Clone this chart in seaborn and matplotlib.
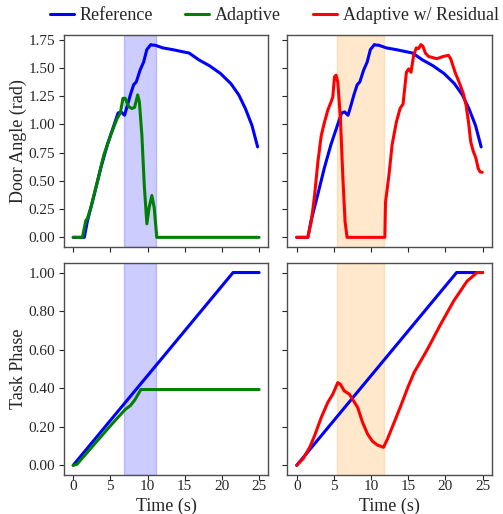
import numpy as np
import pandas as pd
import matplotlib
matplotlib.use("Agg")
import matplotlib.pyplot as plt
import seaborn as sns
from matplotlib.ticker import FormatStrFormatter

# reference door trajectory (same for both columns)
ref_t = [0, 1.5, 1.9, 2.8, 3.7, 4.6, 5.47, 6.04, 6.44, 6.9, 7.24, 7.69, 8.13, 8.49, 9.0, 9.47, 9.9,
         10.44, 10.7, 11.0, 12.04, 13.4, 15.6, 16.9, 18.27, 19.8, 21.2, 22.27, 23.15, 24.04, 24.8]
ref_angle = [0, 0, 0.14, 0.37, 0.61, 0.82, 0.99, 1.10, 1.11, 1.08, 1.155, 1.26, 1.35, 1.375, 1.48, 1.55, 1.66,
             1.705, 1.70, 1.70, 1.676, 1.66, 1.63, 1.57, 1.52, 1.45, 1.36, 1.26, 1.14, 0.99, 0.80]

# adaptive (green)
ada_t = [0, 1.24, 1.7, 1.9, 2.36, 3.24, 4.13, 5.02, 5.9, 6.34, 6.7, 7.0, 7.47, 7.9, 8.26, 8.67, 8.9,
         9.24, 9.56, 9.91, 10.2, 10.58, 10.9, 11.24, 25]
ada_angle = [0, 0, 0.15, 0.165, 0.26, 0.49, 0.73, 0.90, 1.05, 1.10, 1.23, 1.23, 1.155, 1.14, 1.15, 1.26, 1.2,
             0.90, 0.46, 0.12, 0.26, 0.37, 0.26, 0, 0]

# adaptive with residual (red)
res_t = [0, 1.5, 1.96, 2.4, 2.85, 3.3, 3.74, 4.18, 4.63, 4.85, 5.08, 5.3, 5.52, 5.88, 6.19, 6.5, 6.77,
         11.85, 11.94, 12.4, 12.83, 13.4, 13.9, 14.3, 14.75, 15.05, 15.37, 15.72, 16.08, 16.4, 16.7, 16.97,
         17.3, 17.73, 18.85, 19.7, 20.4, 20.7, 21.3, 21.97, 22.4, 22.77, 23.1, 23.4, 23.7, 24.1, 24.4, 24.64, 24.95]
res_angle = [0, 0, 0.14, 0.37, 0.67, 0.90, 1.02, 1.125, 1.2, 1.24, 1.42, 1.435, 1.375, 1.05, 0.55, 0.14, 0,
             0, 0.31, 0.55, 0.82, 1.02, 1.14, 1.18, 1.46, 1.49, 1.46, 1.61, 1.676, 1.67, 1.705, 1.69,
             1.63, 1.60, 1.58, 1.60, 1.61, 1.58, 1.46, 1.35, 1.27, 1.17, 1.02, 0.845, 0.77, 0.70, 0.61, 0.58, 0.575]

# task phase
ref_phase_t = [0, 21.5, 25]
ref_phase = [0, 1.0, 1.0]
ada_phase_t = [0, 0.5, 5, 7, 7.7, 8.3, 9.1, 25]
ada_phase = [0, 0.005, 0.205, 0.29, 0.31, 0.34, 0.393, 0.393]
res_phase_t = [0, 0.84, 1.74, 2.4, 3.3, 4.18, 4.85, 5.52, 5.87, 6.4, 7.08, 7.5, 8.2, 8.86, 9.53, 10.2,
               10.87, 11.67, 12.2, 13.1, 14.0, 14.9, 15.78, 17.55, 19.33, 21.1, 22.9, 24.24, 25]
res_phase = [0, 0.033, 0.093, 0.153, 0.248, 0.326, 0.369, 0.429, 0.42, 0.386, 0.369, 0.343, 0.30, 0.222,
             0.162, 0.124, 0.105, 0.093, 0.136, 0.222, 0.309, 0.40, 0.481, 0.60, 0.73, 0.852, 0.955, 1.0, 1.0]

# highlighted intervals
ada_span = (6.8, 11.15)
res_span = (5.4, 11.8)

sns.set_style("ticks")
plt.rcParams["font.family"] = ["Liberation Serif", "DejaVu Serif"]
plt.rcParams["axes.edgecolor"] = "0.3"
plt.rcParams["axes.linewidth"] = 1.0

fig, axs = plt.subplots(2, 2, sharex=True, sharey="row", figsize=(5.03, 5.14), dpi=100)
fig.subplots_adjust(left=0.127, right=0.978, top=0.932, bottom=0.076, wspace=0.093, hspace=0.075)

LW = 2.2


def draw(ax, t, y, color, label):
    df = pd.DataFrame({"t": t, "y": y})
    sns.lineplot(data=df, x="t", y="y", ax=ax, color=color, linewidth=LW,
                 estimator=None, sort=False, label=label, legend=False)


# top row: door angle
draw(axs[0, 0], ref_t, ref_angle, "blue", "Reference")
draw(axs[0, 0], ada_t, ada_angle, "green", "Adaptive")
axs[0, 0].axvspan(*ada_span, color="blue", alpha=0.2)

draw(axs[0, 1], ref_t, ref_angle, "blue", "Reference")
draw(axs[0, 1], res_t, res_angle, "red", "Adaptive w/ Residual")
axs[0, 1].axvspan(*res_span, color="darkorange", alpha=0.2)

# bottom row: task phase
draw(axs[1, 0], ref_phase_t, ref_phase, "blue", "Reference")
draw(axs[1, 0], ada_phase_t, ada_phase, "green", "Adaptive")
axs[1, 0].axvspan(*ada_span, color="blue", alpha=0.2)

draw(axs[1, 1], ref_phase_t, ref_phase, "blue", "Reference")
draw(axs[1, 1], res_phase_t, res_phase, "red", "Adaptive w/ Residual")
axs[1, 1].axvspan(*res_span, color="darkorange", alpha=0.2)

for ax in axs.flat:
    ax.set_xlabel("")
    ax.set_ylabel("")
    ax.tick_params(axis="x", labelsize=11, pad=0)
    ax.tick_params(axis="y", labelsize=11, pad=3)
    ax.yaxis.set_major_formatter(FormatStrFormatter("%.2f"))

axs[0, 0].set_yticks(np.arange(0, 1.76, 0.25))
axs[1, 0].set_yticks(np.arange(0, 1.01, 0.2))
axs[1, 0].set_xticks([0, 5, 10, 15, 20, 25])

axs[0, 0].set_ylabel("Door Angle (rad)", fontsize=13, labelpad=1)
axs[1, 0].set_ylabel("Task Phase", fontsize=13, labelpad=1)
axs[1, 0].set_xlabel("Time (s)", fontsize=13, labelpad=3.5)
axs[1, 1].set_xlabel("Time (s)", fontsize=13, labelpad=3.5)

h1, l1 = axs[0, 0].get_legend_handles_labels()
h2, l2 = axs[0, 1].get_legend_handles_labels()
fig.legend(h1 + h2[1:], l1 + l2[1:], loc="upper center", bbox_to_anchor=(0.545, 1.018),
           ncol=3, frameon=False, fontsize=13, handlelength=1.33, handletextpad=0.3,
           columnspacing=1.8)

fig.savefig("out.png", dpi=100)
